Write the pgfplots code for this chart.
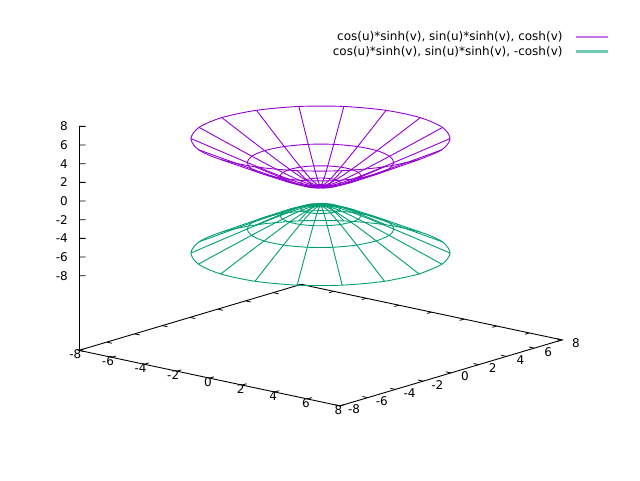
\documentclass[border=0pt]{standalone}
\usepackage{pgfplots}
\usepackage{pgfplotstable}
\usepackage{fontspec}
\setmainfont{DejaVu Sans}
\pgfplotsset{compat=1.18}
\definecolor{gpviolet}{HTML}{9400D3}
\definecolor{gpgreen}{HTML}{009E73}
\definecolor{gpvioletl}{HTML}{C473E7}
\definecolor{gpgreenl}{HTML}{73CAB2}
\newcommand\sheets[1]{%
  \addplot3[gpviolet,smooth,no marks,forget plot] table[x=x,y=y,z=z]{#1};
  \addplot3[gpgreen,smooth,no marks,forget plot] table[x=x,y=y,z=n]{#1};
}
\begin{document}
% rings v = const
\pgfplotstableread[row sep=\\]{x y z n\\
.281 0 1.039 -1.039\\.264 .096 1.039 -1.039\\.215 .181 1.039 -1.039\\.141 .243 1.039 -1.039\\.049 .277 1.039 -1.039\\-.049 .277 1.039 -1.039\\-.141 .243 1.039 -1.039\\-.215 .181 1.039 -1.039\\-.264 .096 1.039 -1.039\\-.281 0 1.039 -1.039\\-.264 -.096 1.039 -1.039\\-.215 -.181 1.039 -1.039\\-.141 -.243 1.039 -1.039\\-.049 -.277 1.039 -1.039\\.049 -.277 1.039 -1.039\\.141 -.243 1.039 -1.039\\.215 -.181 1.039 -1.039\\.264 -.096 1.039 -1.039\\.281 0 1.039 -1.039\\
}\ringA
\pgfplotstableread[row sep=\\]{x y z n\\
.933 0 1.368 -1.368\\.877 .319 1.368 -1.368\\.715 .600 1.368 -1.368\\.467 .808 1.368 -1.368\\.162 .919 1.368 -1.368\\-.162 .919 1.368 -1.368\\-.467 .808 1.368 -1.368\\-.715 .600 1.368 -1.368\\-.877 .319 1.368 -1.368\\-.933 0 1.368 -1.368\\-.877 -.319 1.368 -1.368\\-.715 -.600 1.368 -1.368\\-.467 -.808 1.368 -1.368\\-.162 -.919 1.368 -1.368\\.162 -.919 1.368 -1.368\\.467 -.808 1.368 -1.368\\.715 -.600 1.368 -1.368\\.877 -.319 1.368 -1.368\\.933 0 1.368 -1.368\\
}\ringB
\pgfplotstableread[row sep=\\]{x y z n\\
1.881 0 2.130 -2.130\\1.768 .643 2.130 -2.130\\1.441 1.209 2.130 -2.130\\.941 1.629 2.130 -2.130\\.327 1.852 2.130 -2.130\\-.327 1.852 2.130 -2.130\\-.941 1.629 2.130 -2.130\\-1.441 1.209 2.130 -2.130\\-1.768 .643 2.130 -2.130\\-1.881 0 2.130 -2.130\\-1.768 -.643 2.130 -2.130\\-1.441 -1.209 2.130 -2.130\\-.941 -1.629 2.130 -2.130\\-.327 -1.852 2.130 -2.130\\.327 -1.852 2.130 -2.130\\.941 -1.629 2.130 -2.130\\1.441 -1.209 2.130 -2.130\\1.768 -.643 2.130 -2.130\\1.881 0 2.130 -2.130\\
}\ringC
\pgfplotstableread[row sep=\\]{x y z n\\
3.423 0 3.566 -3.566\\3.217 1.171 3.566 -3.566\\2.622 2.200 3.566 -3.566\\1.712 2.964 3.566 -3.566\\.594 3.371 3.566 -3.566\\-.594 3.371 3.566 -3.566\\-1.712 2.964 3.566 -3.566\\-2.622 2.200 3.566 -3.566\\-3.217 1.171 3.566 -3.566\\-3.423 0 3.566 -3.566\\-3.217 -1.171 3.566 -3.566\\-2.622 -2.200 3.566 -3.566\\-1.712 -2.964 3.566 -3.566\\-.594 -3.371 3.566 -3.566\\.594 -3.371 3.566 -3.566\\1.712 -2.964 3.566 -3.566\\2.622 -2.200 3.566 -3.566\\3.217 -1.171 3.566 -3.566\\3.423 0 3.566 -3.566\\
}\ringD
\pgfplotstableread[row sep=\\]{x y z n\\
6.050 0 6.132 -6.132\\5.685 2.069 6.132 -6.132\\4.634 3.889 6.132 -6.132\\3.025 5.239 6.132 -6.132\\1.050 5.958 6.132 -6.132\\-1.050 5.958 6.132 -6.132\\-3.025 5.239 6.132 -6.132\\-4.634 3.889 6.132 -6.132\\-5.685 2.069 6.132 -6.132\\-6.050 0 6.132 -6.132\\-5.685 -2.069 6.132 -6.132\\-4.634 -3.889 6.132 -6.132\\-3.025 -5.239 6.132 -6.132\\-1.050 -5.958 6.132 -6.132\\1.050 -5.958 6.132 -6.132\\3.025 -5.239 6.132 -6.132\\4.634 -3.889 6.132 -6.132\\5.685 -2.069 6.132 -6.132\\6.050 0 6.132 -6.132\\
}\ringE
% meridians u = const
\pgfplotstableread[row sep=\\]{x y z n\\
-6.050 0 6.132 -6.132\\-4.560 0 4.668 -4.668\\-3.423 0 3.566 -3.566\\-2.553 0 2.742 -2.742\\-1.881 0 2.130 -2.130\\-1.354 0 1.683 -1.683\\-.933 0 1.368 -1.368\\-.585 0 1.158 -1.158\\-.281 0 1.039 -1.039\\0 0 1 -1\\.281 0 1.039 -1.039\\.585 0 1.158 -1.158\\.933 0 1.368 -1.368\\1.354 0 1.683 -1.683\\1.881 0 2.130 -2.130\\2.553 0 2.742 -2.742\\3.423 0 3.566 -3.566\\4.560 0 4.668 -4.668\\6.050 0 6.132 -6.132\\
}\merA
\pgfplotstableread[row sep=\\]{x y z n\\
-5.685 -2.069 6.132 -6.132\\-4.285 -1.560 4.668 -4.668\\-3.217 -1.171 3.566 -3.566\\-2.399 -.873 2.742 -2.742\\-1.768 -.643 2.130 -2.130\\-1.272 -.463 1.683 -1.683\\-.877 -.319 1.368 -1.368\\-.550 -.200 1.158 -1.158\\-.264 -.096 1.039 -1.039\\0 0 1 -1\\.264 .096 1.039 -1.039\\.550 .200 1.158 -1.158\\.877 .319 1.368 -1.368\\1.272 .463 1.683 -1.683\\1.768 .643 2.130 -2.130\\2.399 .873 2.742 -2.742\\3.217 1.171 3.566 -3.566\\4.285 1.560 4.668 -4.668\\5.685 2.069 6.132 -6.132\\
}\merB
\pgfplotstableread[row sep=\\]{x y z n\\
-4.634 -3.889 6.132 -6.132\\-3.493 -2.931 4.668 -4.668\\-2.622 -2.200 3.566 -3.566\\-1.956 -1.641 2.742 -2.742\\-1.441 -1.209 2.130 -2.130\\-1.037 -.870 1.683 -1.683\\-.715 -.600 1.368 -1.368\\-.448 -.376 1.158 -1.158\\-.215 -.181 1.039 -1.039\\0 0 1 -1\\.215 .181 1.039 -1.039\\.448 .376 1.158 -1.158\\.715 .600 1.368 -1.368\\1.037 .870 1.683 -1.683\\1.441 1.209 2.130 -2.130\\1.956 1.641 2.742 -2.742\\2.622 2.200 3.566 -3.566\\3.493 2.931 4.668 -4.668\\4.634 3.889 6.132 -6.132\\
}\merC
\pgfplotstableread[row sep=\\]{x y z n\\
-3.025 -5.239 6.132 -6.132\\-2.280 -3.949 4.668 -4.668\\-1.712 -2.964 3.566 -3.566\\-1.277 -2.211 2.742 -2.742\\-.941 -1.629 2.130 -2.130\\-.677 -1.173 1.683 -1.683\\-.467 -.808 1.368 -1.368\\-.293 -.507 1.158 -1.158\\-.141 -.243 1.039 -1.039\\0 0 1 -1\\.141 .243 1.039 -1.039\\.293 .507 1.158 -1.158\\.467 .808 1.368 -1.368\\.677 1.173 1.683 -1.683\\.941 1.629 2.130 -2.130\\1.277 2.211 2.742 -2.742\\1.712 2.964 3.566 -3.566\\2.280 3.949 4.668 -4.668\\3.025 5.239 6.132 -6.132\\
}\merD
\pgfplotstableread[row sep=\\]{x y z n\\
-1.050 -5.958 6.132 -6.132\\-.792 -4.491 4.668 -4.668\\-.594 -3.371 3.566 -3.566\\-.443 -2.514 2.742 -2.742\\-.327 -1.852 2.130 -2.130\\-.235 -1.333 1.683 -1.683\\-.162 -.919 1.368 -1.368\\-.102 -.576 1.158 -1.158\\-.049 -.277 1.039 -1.039\\0 0 1 -1\\.049 .277 1.039 -1.039\\.102 .576 1.158 -1.158\\.162 .919 1.368 -1.368\\.235 1.333 1.683 -1.683\\.327 1.852 2.130 -2.130\\.443 2.514 2.742 -2.742\\.594 3.371 3.566 -3.566\\.792 4.491 4.668 -4.668\\1.050 5.958 6.132 -6.132\\
}\merE
\pgfplotstableread[row sep=\\]{x y z n\\
1.050 -5.958 6.132 -6.132\\.792 -4.491 4.668 -4.668\\.594 -3.371 3.566 -3.566\\.443 -2.514 2.742 -2.742\\.327 -1.852 2.130 -2.130\\.235 -1.333 1.683 -1.683\\.162 -.919 1.368 -1.368\\.102 -.576 1.158 -1.158\\.049 -.277 1.039 -1.039\\0 0 1 -1\\-.049 .277 1.039 -1.039\\-.102 .576 1.158 -1.158\\-.162 .919 1.368 -1.368\\-.235 1.333 1.683 -1.683\\-.327 1.852 2.130 -2.130\\-.443 2.514 2.742 -2.742\\-.594 3.371 3.566 -3.566\\-.792 4.491 4.668 -4.668\\-1.050 5.958 6.132 -6.132\\
}\merF
\pgfplotstableread[row sep=\\]{x y z n\\
3.025 -5.239 6.132 -6.132\\2.280 -3.949 4.668 -4.668\\1.712 -2.964 3.566 -3.566\\1.277 -2.211 2.742 -2.742\\.941 -1.629 2.130 -2.130\\.677 -1.173 1.683 -1.683\\.467 -.808 1.368 -1.368\\.293 -.507 1.158 -1.158\\.141 -.243 1.039 -1.039\\0 0 1 -1\\-.141 .243 1.039 -1.039\\-.293 .507 1.158 -1.158\\-.467 .808 1.368 -1.368\\-.677 1.173 1.683 -1.683\\-.941 1.629 2.130 -2.130\\-1.277 2.211 2.742 -2.742\\-1.712 2.964 3.566 -3.566\\-2.280 3.949 4.668 -4.668\\-3.025 5.239 6.132 -6.132\\
}\merG
\pgfplotstableread[row sep=\\]{x y z n\\
4.634 -3.889 6.132 -6.132\\3.493 -2.931 4.668 -4.668\\2.622 -2.200 3.566 -3.566\\1.956 -1.641 2.742 -2.742\\1.441 -1.209 2.130 -2.130\\1.037 -.870 1.683 -1.683\\.715 -.600 1.368 -1.368\\.448 -.376 1.158 -1.158\\.215 -.181 1.039 -1.039\\0 0 1 -1\\-.215 .181 1.039 -1.039\\-.448 .376 1.158 -1.158\\-.715 .600 1.368 -1.368\\-1.037 .870 1.683 -1.683\\-1.441 1.209 2.130 -2.130\\-1.956 1.641 2.742 -2.742\\-2.622 2.200 3.566 -3.566\\-3.493 2.931 4.668 -4.668\\-4.634 3.889 6.132 -6.132\\
}\merH
\pgfplotstableread[row sep=\\]{x y z n\\
5.685 -2.069 6.132 -6.132\\4.285 -1.560 4.668 -4.668\\3.217 -1.171 3.566 -3.566\\2.399 -.873 2.742 -2.742\\1.768 -.643 2.130 -2.130\\1.272 -.463 1.683 -1.683\\.877 -.319 1.368 -1.368\\.550 -.200 1.158 -1.158\\.264 -.096 1.039 -1.039\\0 0 1 -1\\-.264 .096 1.039 -1.039\\-.550 .200 1.158 -1.158\\-.877 .319 1.368 -1.368\\-1.272 .463 1.683 -1.683\\-1.768 .643 2.130 -2.130\\-2.399 .873 2.742 -2.742\\-3.217 1.171 3.566 -3.566\\-4.285 1.560 4.668 -4.668\\-5.685 2.069 6.132 -6.132\\
}\merI
\begin{tikzpicture}[x=1pt,y=1pt]
\useasboundingbox (0,0) rectangle (640,480);
\begin{axis}[
  anchor=origin, at={(320.5pt,284.2pt)},
  x={(16.31pt,-3.47pt)}, y={(13.875pt,4.125pt)}, z={(0pt,9.333pt)},
  xmin=-8,xmax=8,ymin=-8,ymax=8,zmin=-16,zmax=8,
  clip=false,
  axis line style={draw=none},
  major tick length=0pt,
  xtick={-8,-6,-4,-2,0,2,4,6,8}, xticklabels={-8,-6,-4,-2,0,2,4,6,8},
  ytick={-8,-6,-4,-2,0,2,4,6,8}, yticklabels={-8,-6,-4,-2,0,2,4,6,8},
  ztick={-8,-6,-4,-2,0,2,4,6,8}, zticklabels={-8,-6,-4,-2,0,2,4,6,8},
  tick label style={font=\fontsize{12}{14}\selectfont, inner sep=0pt},
  xticklabel style={anchor=east, xshift=2.5pt, yshift=-4pt},
  yticklabel style={anchor=center, xshift=14pt, yshift=-3.5pt},
  zticklabel style={anchor=east, xshift=-11pt},
  legend style={at={(1.097,1.09)}, anchor=north east, draw=none, fill=none,
    font=\fontsize{12}{14}\selectfont, inner sep=0pt, row sep=0pt},
  legend cell align=right,
  legend plot pos=right,
  legend image code/.code={\path[draw=none] (0pt,0pt) -- (43pt,0pt); \draw[#1,line width=2.2pt] (11pt,0pt) -- (43pt,0pt);},
  every axis plot/.append style={line width=.9pt},
]
\draw[black,line width=.9pt] (axis cs:-8,-8,-16) -- (axis cs:8,-8,-16) -- (axis cs:8,8,-16) -- (axis cs:-8,8,-16) -- cycle;
\draw[black,line width=1pt] (axis cs:-8,-8,-16) -- (axis cs:-8,-8,8);
\pgfplotsinvokeforeach{-8,-6,-4,-2,0,2,4,6,8}{
  \draw[black,line width=.8pt] (axis cs:#1,-8,-16) -- (axis cs:#1,-7.68,-16);
  \draw[black,line width=.8pt] (axis cs:#1,8,-16) -- (axis cs:#1,7.68,-16);
  \draw[black,line width=.8pt] (axis cs:8,#1,-16) -- (axis cs:7.68,#1,-16);
  \draw[black,line width=.8pt] (axis cs:-8,#1,-16) -- (axis cs:-7.68,#1,-16);
  \draw[black,line width=.8pt] (axis cs:-8,-8,#1) -- (axis cs:-7.764,-7.802,#1);
}
\addlegendimage{gpvioletl}
\addlegendentry{cos(u)*sinh(v), sin(u)*sinh(v), cosh(v)}
\addlegendimage{gpgreenl}
\addlegendentry{cos(u)*sinh(v), sin(u)*sinh(v), -cosh(v)}
\sheets{\ringE}
\sheets{\ringA}\sheets{\ringB}\sheets{\ringC}\sheets{\ringD}
\sheets{\merA}\sheets{\merB}\sheets{\merC}\sheets{\merD}\sheets{\merE}
\sheets{\merF}\sheets{\merG}\sheets{\merH}\sheets{\merI}
\end{axis}
\end{tikzpicture}
\end{document}
